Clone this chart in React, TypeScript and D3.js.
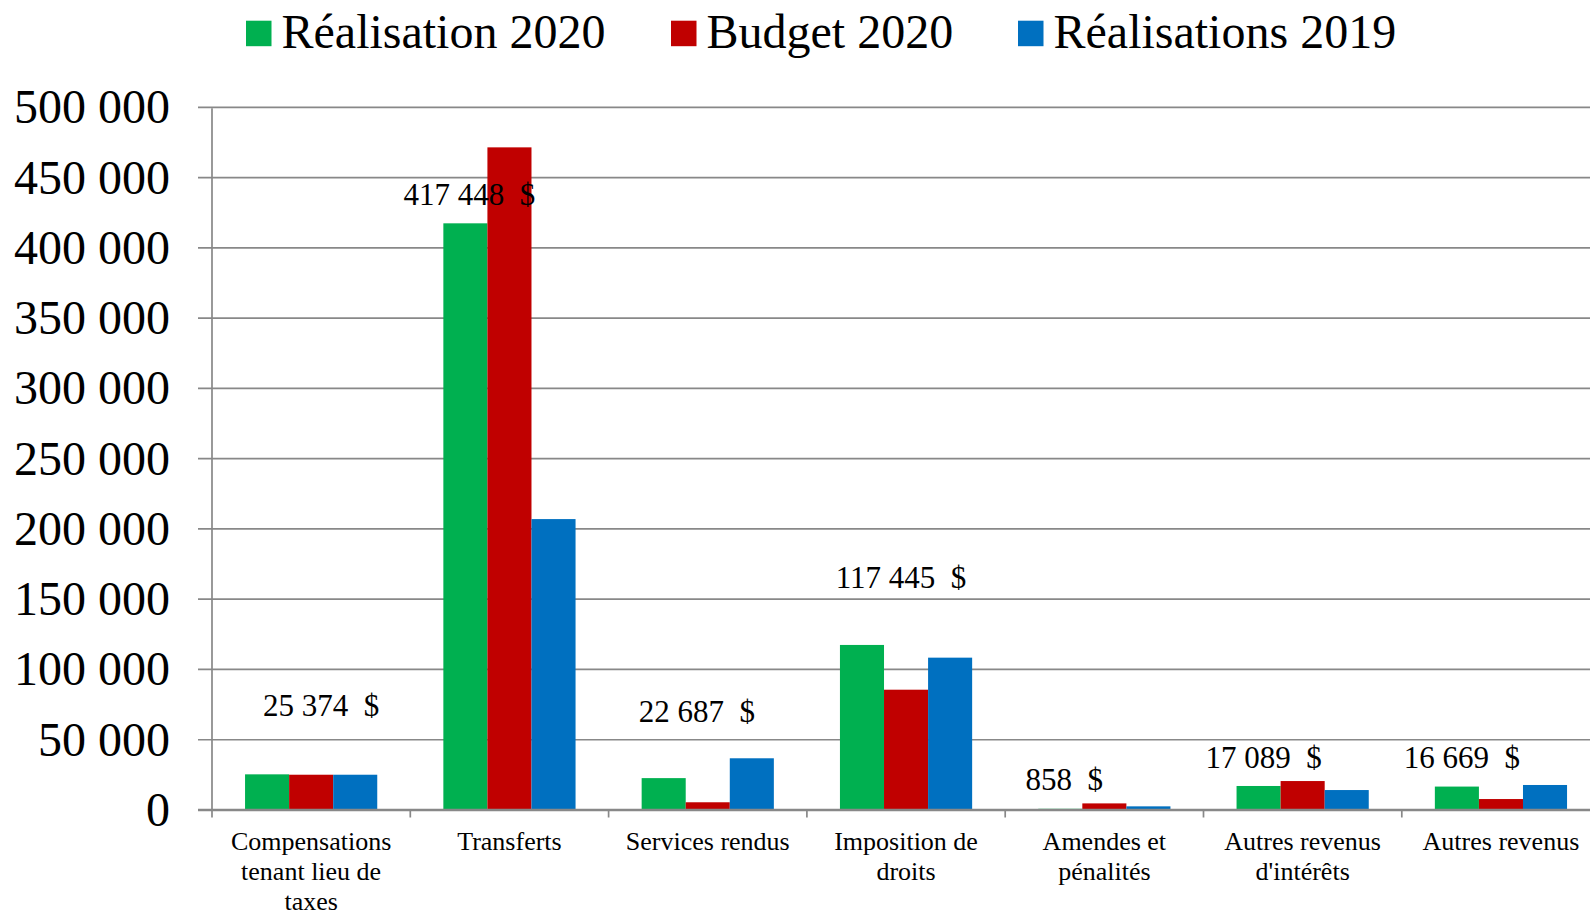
import React from "react";
import * as d3 from "d3";

// ---- Data ----
const categories = [
  "Compensations\ntenant lieu de\ntaxes",
  "Transferts",
  "Services rendus",
  "Imposition de\ndroits",
  "Amendes et\npénalités",
  "Autres revenus\nd'intérêts",
  "Autres revenus",
];
const seriesNames = ["Réalisation 2020", "Budget 2020", "Réalisations 2019"];
const realisation2020 = [25374, 417448, 22687, 117445, 858, 17089, 16669];
const budget2020 = [25100, 471500, 5500, 85600, 4700, 20600, 7800];
const realisations2019 = [25100, 207000, 36800, 108400, 2600, 14200, 17800];
const yTicks = [0, 50000, 100000, 150000, 200000, 250000, 300000, 350000, 400000, 450000, 500000];

// ---- Style / layout ----
const colors = ["#00B050", "#C00000", "#0070C0"];
const labelDx = [10, -40, -11, -5, -40, -39, -39];
const labelDy = [58, 18, 56, 57, 19, 18, 19];
const legendX = [246, 671, 1018];
const FONT = "'Liberation Serif', 'Times New Roman', serif";
const GRID = "#888888";

const W = 1590;
const H = 914;
const left = 212;
const slot = 198.3;
const y0 = 810;
const yTop = 107.3;

const fr = d3.formatLocale({ decimal: ",", thousands: " ", grouping: [3], currency: ["", ""] });
const fmt = fr.format(",d");

export default function App() {
  const series = [realisation2020, budget2020, realisations2019];
  const x = d3
    .scaleBand<string>()
    .domain(categories)
    .range([left, left + categories.length * slot])
    .paddingInner(0)
    .paddingOuter(0);
  const xs = d3
    .scaleBand<number>()
    .domain([0, 1, 2])
    .range([0, x.bandwidth()])
    .paddingInner(0)
    .paddingOuter(0.75);
  const y = d3.scaleLinear().domain([0, 500000]).range([y0, yTop]);

  const boundaries = categories.map((c) => x(c) as number).concat([left + categories.length * slot]);

  return (
    <div style={{ position: "absolute", left: 0, top: 0 }}>
      <svg width={W} height={H} style={{ display: "block", background: "#fff" }} fontFamily={FONT}>
        <rect x={0} y={0} width={W} height={H} fill="#fff" />
        {/* legend */}
        {seriesNames.map((n, i) => (
          <g key={n}>
            <rect x={legendX[i]} y={20.7} width={25.5} height={25.5} fill={colors[i]} />
            <text x={legendX[i] + 35.5} y={48.3} fontSize={48} fill="#000">
              {n}
            </text>
          </g>
        ))}
        {/* gridlines + y ticks */}
        {yTicks.map((t) => (
          <g key={t}>
            {t !== 0 && (
              <line x1={198} x2={W + 20} y1={y(t)} y2={y(t)} stroke={GRID} strokeWidth={1.7} />
            )}
            <text x={170} y={y(t) + 16} fontSize={48} textAnchor="end" fill="#000">
              {fmt(t)}
            </text>
          </g>
        ))}
        {/* bars */}
        {categories.map((c, ci) => (
          <g key={c}>
            {series.map((s, si) => (
              <rect
                key={si}
                x={(x(c) as number) + (xs(si) as number)}
                y={y(s[ci])}
                width={xs.bandwidth()}
                height={y0 - y(s[ci])}
                fill={colors[si]}
              />
            ))}
          </g>
        ))}
        {/* axes */}
        <line x1={left} x2={left} y1={yTop + 1} y2={y0} stroke={GRID} strokeWidth={1.7} />
        <line x1={198} x2={W + 20} y1={y0} y2={y0} stroke={GRID} strokeWidth={2.6} />
        {boundaries.map((b, i) => (
          <line key={i} x1={b} x2={b} y1={y0} y2={y0 + 7.5} stroke={GRID} strokeWidth={1.7} />
        ))}
        {/* data labels */}
        {categories.map((c, ci) => (
          <text
            key={"l" + ci}
            x={(x(c) as number) + x.bandwidth() / 2 + labelDx[ci]}
            y={y(realisation2020[ci]) - labelDy[ci]}
            fontSize={31}
            textAnchor="middle"
            fill="#000"
            style={{ whiteSpace: "pre" }}
          >
            {`${fmt(realisation2020[ci])}  $`}
          </text>
        ))}
        {/* category labels */}
        {categories.map((c, ci) => (
          <text
            key={"c" + ci}
            x={(x(c) as number) + x.bandwidth() / 2}
            y={850}
            fontSize={26}
            textAnchor="middle"
            fill="#000"
          >
            {c.split("\n").map((line, li) => (
              <tspan key={li} x={(x(c) as number) + x.bandwidth() / 2} dy={li === 0 ? 0 : 30}>
                {line}
              </tspan>
            ))}
          </text>
        ))}
      </svg>
    </div>
  );
}
